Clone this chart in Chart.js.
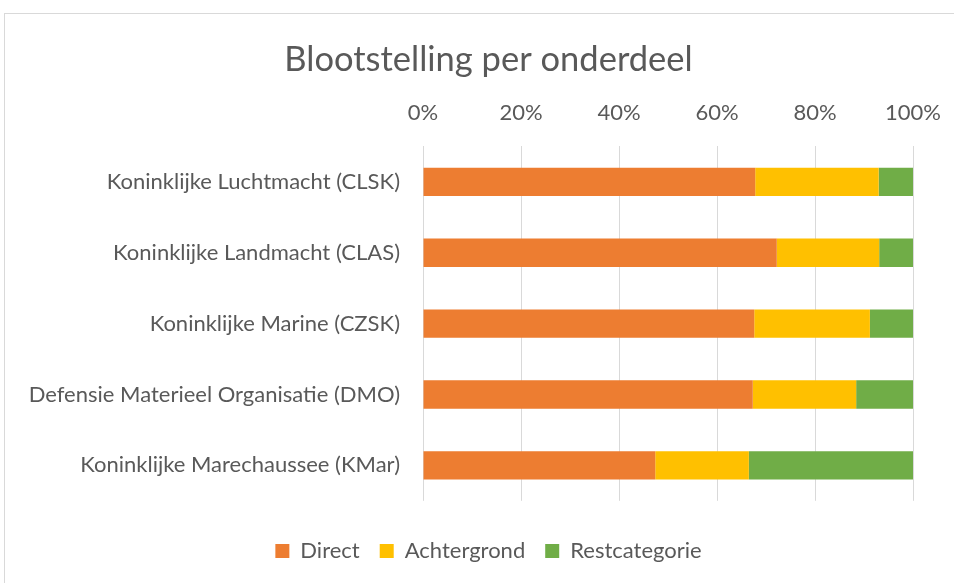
<!DOCTYPE html>
<html>
<head>
<meta charset="utf-8">
<script src="https://cdn.jsdelivr.net/npm/chart.js@4"></script>
<style>
  body { margin: 0; background: #fff; }
  #wrap { position: relative; width: 954px; height: 583px; }
  #frame {
    position: absolute; left: 4px; top: 13px; width: 960px; height: 580px;
    border-left: 1px solid #d9d9d9; border-top: 1px solid #d9d9d9;
    pointer-events: none;
  }
</style>
</head>
<body>
<div id="wrap">
  <canvas id="chart" width="954" height="583"></canvas>
  <div id="frame"></div>
</div>
<script>
const categories = [
  "Koninklijke Luchtmacht (CLSK)",
  "Koninklijke Landmacht (CLAS)",
  "Koninklijke Marine (CZSK)",
  "Defensie Materieel Organisatie (DMO)",
  "Koninklijke Marechaussee (KMar)"
];
const direct = [67.8, 72.2, 67.6, 67.3, 47.4];
const achtergrond = [25.2, 20.9, 23.6, 21.1, 19.1];
const restcategorie = [7.0, 6.9, 8.8, 11.6, 33.5];
const xTicks = [0, 20, 40, 60, 80, 100];

const textColor = "#595959";
const font = "Lato, 'Liberation Sans', sans-serif";
const padLeft = 64;

const canvas = document.getElementById("chart");
const myChart = new Chart(canvas.getContext("2d"), {
  type: "bar",
  data: {
    labels: categories,
    datasets: [
      { label: "Direct", data: direct, backgroundColor: "#ED7D31" },
      { label: "Achtergrond", data: achtergrond, backgroundColor: "#FFC000" },
      { label: "Restcategorie", data: restcategorie, backgroundColor: "#70AD47" },
    ],
  },
  options: {
    indexAxis: "y",
    responsive: false,
    animation: false,
    datasets: { bar: { categoryPercentage: 1, barPercentage: 0.4, borderWidth: 0 } },
    layout: { padding: { top: 39, left: padLeft, right: 41, bottom: 11 } },
    plugins: {
      title: {
        display: true,
        text: "Blootstelling per onderdeel",
        color: textColor,
        font: { family: font, size: 34.5, weight: "normal" },
        padding: { top: 0, bottom: 0 },
      },
      legend: {
        position: "bottom",
        // empty legend title only used as spacer above the items
        title: { display: true, text: " ", font: { size: 1 }, padding: { top: 9, bottom: 9 } },
        labels: {
          color: textColor,
          font: { family: font, size: 22 },
          boxWidth: 14,
          boxHeight: 14,
          padding: 20,
        },
      },
      tooltip: { enabled: false },
    },
    scales: {
      x: {
        position: "top",
        stacked: true,
        min: 0,
        max: 100,
        afterBuildTicks: (scale) => {
          scale.ticks = xTicks.map((v) => ({ value: v }));
        },
        afterFit: (scale) => {
          scale.height = 66;
          scale.paddingLeft = 0;
          scale.paddingRight = 0;
        },
        ticks: {
          color: textColor,
          font: { family: font, size: 22 },
          padding: 20,
          callback: (v) => v + "%",
        },
        grid: { color: "#d9d9d9", lineWidth: 1, drawTicks: false },
        border: { display: false },
      },
      y: {
        stacked: true,
        afterFit: (scale) => {
          scale.width = 423 - padLeft;
          // long labels reach past the left padding, so don't clip them
          scale._computeLabelArea = () => undefined;
        },
        ticks: {
          color: textColor,
          font: { family: font, size: 22 },
          padding: 23,
        },
        grid: { display: false, drawTicks: false },
        border: { display: false },
      },
    },
  },
});
</script>
</body>
</html>
